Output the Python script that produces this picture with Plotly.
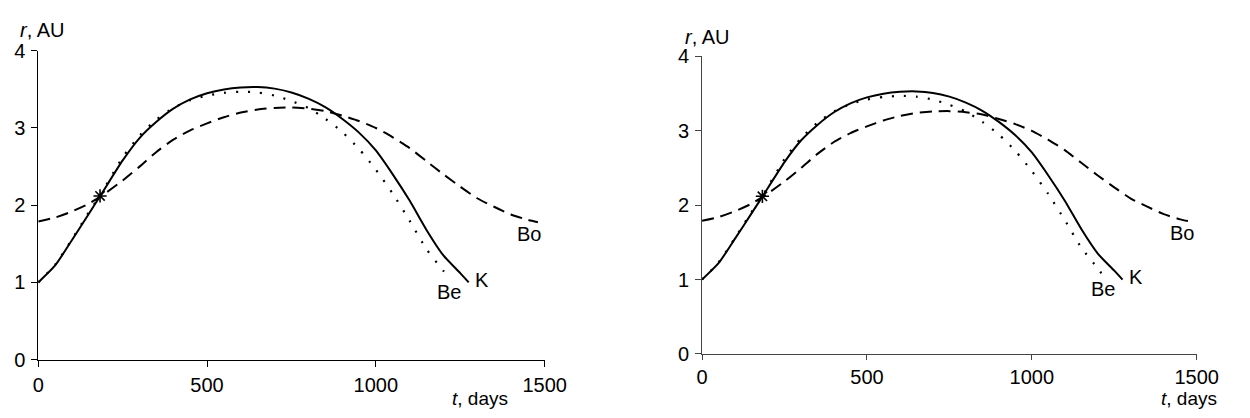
import plotly.graph_objects as go

# ---- data ----
t_K = [0, 50, 100, 150, 185, 250, 300, 350, 400, 450, 500, 550, 600, 650, 700, 750,
       800, 850, 900, 950, 1000, 1050, 1100, 1150, 1200, 1250, 1275]
r_K = [1.00, 1.22, 1.55, 1.89, 2.13, 2.58, 2.87, 3.08, 3.25, 3.37, 3.45, 3.50, 3.525, 3.53,
       3.51, 3.46, 3.38, 3.27, 3.12, 2.94, 2.71, 2.40, 2.06, 1.68, 1.35, 1.12, 1.00]

t_Be = [0, 50, 100, 150, 185, 250, 300, 350, 400, 450, 500, 550, 600, 650, 700, 750,
        800, 850, 900, 950, 1000, 1050, 1100, 1150, 1200, 1215]
r_Be = [1.00, 1.23, 1.56, 1.91, 2.14, 2.62, 2.90, 3.11, 3.26, 3.36, 3.42, 3.455, 3.47, 3.46,
        3.42, 3.35, 3.26, 3.12, 2.95, 2.73, 2.46, 2.15, 1.80, 1.43, 1.15, 1.06]

t_Bo = [0, 50, 100, 150, 200, 250, 300, 350, 400, 450, 500, 550, 600, 650, 700, 750, 800,
        850, 900, 950, 1000, 1050, 1100, 1150, 1200, 1250, 1300, 1350, 1400, 1450, 1480]
r_Bo = [1.79, 1.84, 1.92, 2.02, 2.16, 2.32, 2.50, 2.69, 2.85, 2.97, 3.06, 3.14, 3.20, 3.24,
        3.26, 3.265, 3.25, 3.22, 3.16, 3.09, 3.00, 2.88, 2.74, 2.57, 2.40, 2.24, 2.09, 1.98,
        1.88, 1.81, 1.78]

star_t = [183]
star_r = [2.12]

labels = ["Bo", "K", "Be"]
label_t = [1454, 1315, 1216]
label_r = [1.63, 1.03, 0.88]

x_ticks = [0, 500, 1000, 1500]
y_ticks = [0, 1, 2, 3, 4]

FONT = "Liberation Sans, Arial, sans-serif"
FS = 20
W, H = 1250, 418

fig = go.Figure()

for ax, (xa, ya) in enumerate([("x", "y"), ("x2", "y2")]):
    fig.add_trace(go.Scatter(x=t_Bo, y=r_Bo, mode="lines", xaxis=xa, yaxis=ya,
                             line=dict(color="black", width=2, dash="12px,7px",
                                       shape="spline", smoothing=0.6)))
    fig.add_trace(go.Scatter(x=t_Be, y=r_Be, mode="lines", xaxis=xa, yaxis=ya,
                             line=dict(color="black", width=2.2, dash="2px,10px",
                                       shape="spline", smoothing=0.6)))
    fig.add_trace(go.Scatter(x=t_K, y=r_K, mode="lines", xaxis=xa, yaxis=ya,
                             line=dict(color="black", width=2, shape="spline", smoothing=0.6)))
    fig.add_trace(go.Scatter(x=star_t, y=star_r, mode="markers", xaxis=xa, yaxis=ya,
                             marker=dict(symbol="asterisk-open", size=11, color="black",
                                         line=dict(color="black", width=1.6))))
    for lab, lt, lr in zip(labels, label_t, label_r):
        fig.add_annotation(x=lt, y=lr, xref=xa, yref=ya, text=lab, showarrow=False,
                           font=dict(family=FONT, size=FS, color="black"),
                           xanchor="center", yanchor="middle")


def px2x(p):
    return p / W


def py2y(p):
    return (H - p) / H


axis_common = dict(showgrid=False, zeroline=False, showline=True, ticks="outside",
                   tickwidth=1, tickfont=dict(family=FONT, size=FS, color="black"))

fig.update_layout(
    width=W, height=H, margin=dict(l=0, r=0, t=0, b=0),
    paper_bgcolor="white", plot_bgcolor="white", showlegend=False,
    xaxis=dict(domain=[px2x(33), px2x(551)], range=[0, 1500], tickvals=x_ticks,
               linecolor="black", tickcolor="black", anchor="y", ticklabelstandoff=1,
               ticklen=6, **axis_common),
    yaxis=dict(domain=[py2y(368), py2y(42)], range=[0, 4], tickvals=y_ticks,
               linecolor="black", tickcolor="black", anchor="x", ticklabelstandoff=2,
               ticklen=6, **axis_common),
    xaxis2=dict(domain=[px2x(712), px2x(1218)], range=[0, 1500], tickvals=x_ticks,
                linecolor="#444", tickcolor="#444", anchor="y2", ticklabelstandoff=0,
                ticklen=5, **axis_common),
    yaxis2=dict(domain=[py2y(362), py2y(48)], range=[0, 4], tickvals=y_ticks,
                linecolor="#444", tickcolor="#444", anchor="x2", ticklabelstandoff=2,
                ticklen=6, **axis_common),
)

# axis titles
for xl, yl, xr in [(12, 20, 515), (693, 27, 1240)]:
    fig.add_annotation(x=px2x(xl), y=py2y(yl), xref="paper", yref="paper",
                       text="<i>r</i>, AU", showarrow=False, xanchor="left", yanchor="middle",
                       font=dict(family=FONT, size=FS, color="black"))
    fig.add_annotation(x=px2x(xr), y=0, xref="paper", yref="paper",
                       text="<i>t</i>, days", showarrow=False, xanchor="right", yanchor="bottom",
                       borderpad=0, yshift=-3,
                       font=dict(family=FONT, size=19, color="black"))

fig.write_html("out.html")
